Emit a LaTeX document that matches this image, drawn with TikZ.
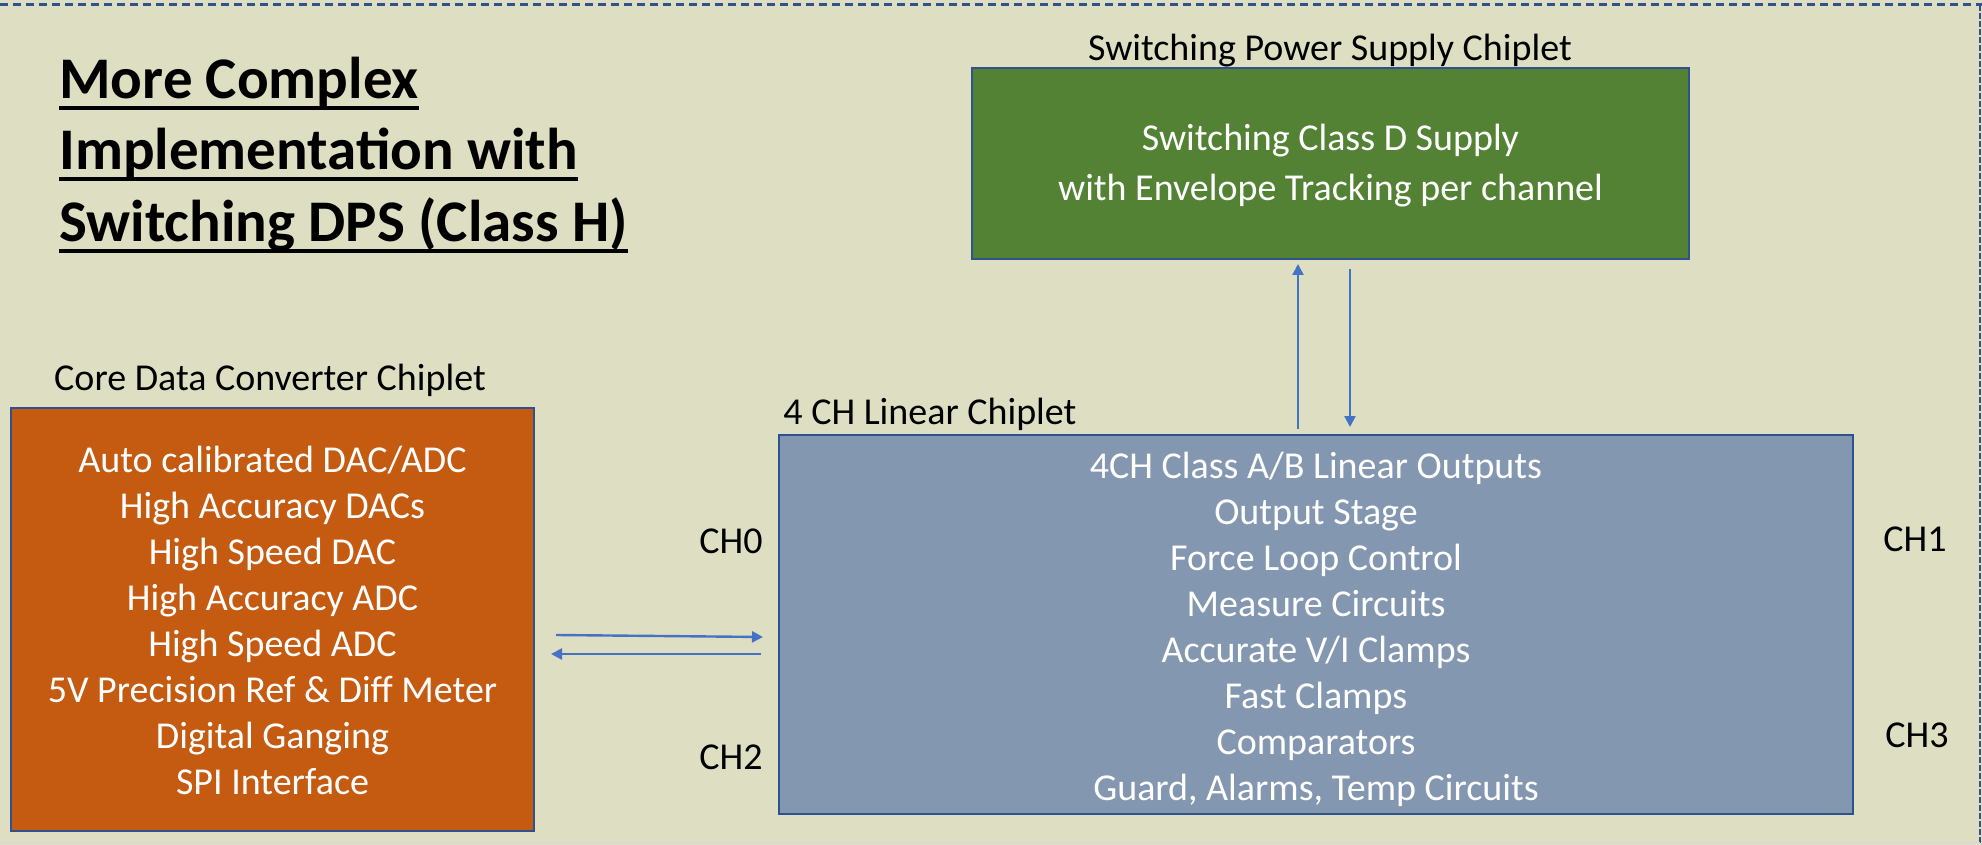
\documentclass[tikz,border=0pt]{standalone}
\usepackage{fontspec}
\setmainfont{Carlito}
\usetikzlibrary{arrows.meta,calc}
\definecolor{bgc}{HTML}{DEDFC2}
\definecolor{edgeblue}{HTML}{2F528F}
\definecolor{arrowblue}{HTML}{4472C4}
\definecolor{orangec}{HTML}{C55A11}
\definecolor{bluec}{HTML}{8497B0}
\definecolor{greenc}{HTML}{548235}
\begin{document}
\begin{tikzpicture}[x=0.5pt,y=-0.5pt,
  box/.style={draw=edgeblue,line width=1pt,inner sep=0pt},
  boxtext/.style={inner sep=0pt,align=center,text=white,font=\fontsize{19}{23}\selectfont},
  lbl/.style={inner sep=0pt,font=\fontsize{19}{23}\selectfont,text=black},
  ttl/.style={inner sep=0pt,anchor=base west,font=\fontsize{29.5}{35}\selectfont\bfseries},
  arr/.style={draw=arrowblue,line width=1.2pt,-{Triangle[length=5.5pt,width=5.5pt]}}]
\fill[bgc] (0,0) rectangle (1982,845);
\useasboundingbox (0,0) rectangle (1982,845);
\draw[edgeblue,line width=1.5pt,dash pattern=on 4pt off 2.5pt] (0,5) -- (1982,5);
\draw[edgeblue,line width=0.6pt,dash pattern=on 3pt off 1pt] (1980,5) -- (1980,845);
\draw[black!15,line width=0.6pt,dash pattern=on 3pt off 1pt] (0,843) -- (1980,843);

% title
\node[ttl] (t1) at (59,99) {More Complex};
\node[ttl] (t2) at (59,170) {Implementation with};
\node[ttl] (t3) at (59,242) {Switching DPS (Class H)};
\foreach \t in {t1,t2,t3}
  \draw[line width=1.7pt] ($(\t.base west)+(0,9)$) -- ($(\t.base east)+(0,9)$);

% boxes
\node[box,fill=orangec,minimum width=261.5pt,minimum height=211.5pt] (core) at (272.5,619.5) {};
\node[boxtext] (coreT) at (272.5,620)
  {Auto calibrated DAC/ADC\\High Accuracy DACs\\High Speed DAC\\High Accuracy ADC\\High Speed ADC\\5V Precision Ref \& Diff Meter\\Digital Ganging\\SPI Interface};
\node[box,fill=bluec,minimum width=537pt,minimum height=189.5pt] (lin) at (1316,624.5) {};
\node[boxtext] (linT) at (1316,629)
  {4CH Class A/B Linear Outputs\\Output Stage\\Force Loop Control\\Measure Circuits\\Accurate V/I Clamps\\Fast Clamps\\Comparators\\Guard, Alarms, Temp Circuits};
\node[box,fill=greenc,minimum width=358.5pt,minimum height=95.5pt] (sw) at (1330.5,163.5) {};
\node[boxtext,font=\fontsize{19}{25}\selectfont] (swT) at (1330.5,166)
  {Switching Class D Supply\\with Envelope Tracking per channel};

% labels
\node[lbl,anchor=base] (swl) at (1330,61) {Switching Power Supply Chiplet};
\node[lbl,anchor=base] (corel) at (270,391) {Core Data Converter Chiplet};
\node[lbl,anchor=base west] (linl) at (783,424) {4 CH Linear Chiplet};
\node[lbl,anchor=base] (ch0) at (731,553) {CH0};
\node[lbl,anchor=base] (ch2) at (731,769) {CH2};
\node[lbl,anchor=base] (ch1) at (1915,551) {CH1};
\node[lbl,anchor=base] (ch3) at (1917,747) {CH3};

% connectors
\coordinate (ux) at (1298,0);
\coordinate (dx) at (1350,0);
\draw[arr] ($(lin.north -| ux)+(0,-5)$) -- ($(sw.south -| ux)+(0,4)$);
\draw[arr] ($(sw.south -| dx)+(0,9)$) -- ($(lin.north -| dx)+(0,-7)$);
\draw[arr] ($(core.east)+(21,15.5)$) -- ($(lin.west)+(-15,12.5)$);
\draw[arr] ($(lin.west)+(-17,29.5)$) -- ($(core.east)+(16,34.5)$);
\end{tikzpicture}
\end{document}
